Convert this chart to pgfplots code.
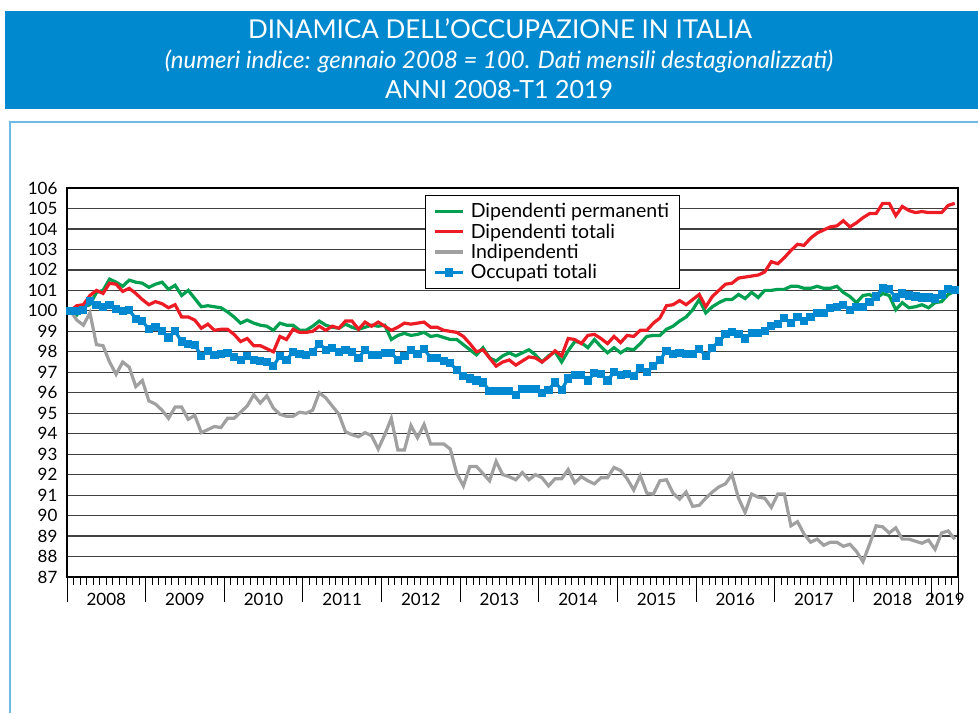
\documentclass[border=0pt]{standalone}
\usepackage{fontspec}
\setmainfont{Lato}
\usepackage{pgfplots}
\usepackage{pgfplotstable}
\pgfplotsset{compat=1.18}
\definecolor{titlebg}{RGB}{0,137,207}
\definecolor{framecol}{RGB}{110,185,230}
\definecolor{cgreen}{RGB}{0,160,80}
\definecolor{cred}{RGB}{237,28,36}
\definecolor{cgray}{RGB}{160,160,160}
\definecolor{cblue}{RGB}{0,136,209}

\pgfplotstableread{
i perm tot ind occ
0 100.0 100.0 100.0 100.0
1 99.8 100.25 99.55 100.0
2 100.2 100.3 99.3 100.05
3 100.3 100.75 99.9 100.5
4 100.9 101.0 98.35 100.3
5 101.0 100.85 98.3 100.2
6 101.55 101.35 97.5 100.3
7 101.4 101.3 96.9 100.1
8 101.2 100.95 97.5 100.0
9 101.5 101.1 97.25 100.05
10 101.4 100.85 96.3 99.6
11 101.35 100.55 96.6 99.5
12 101.15 100.3 95.6 99.1
13 101.3 100.45 95.45 99.2
14 101.4 100.35 95.15 99.0
15 101.05 100.15 94.75 98.7
16 101.25 100.3 95.3 99.0
17 100.75 99.7 95.3 98.5
18 101.0 99.7 94.7 98.4
19 100.6 99.55 94.9 98.35
20 100.2 99.15 94.05 97.8
21 100.25 99.35 94.2 98.05
22 100.2 99.05 94.35 97.85
23 100.15 99.1 94.3 97.9
24 99.95 99.1 94.75 97.95
25 99.7 98.85 94.75 97.75
26 99.4 98.5 95.05 97.6
27 99.55 98.65 95.35 97.8
28 99.4 98.3 95.9 97.6
29 99.3 98.3 95.5 97.55
30 99.25 98.15 95.85 97.5
31 99.05 98.0 95.25 97.3
32 99.4 98.75 94.95 97.8
33 99.3 98.6 94.85 97.6
34 99.3 99.1 94.85 98.0
35 99.05 98.95 95.05 97.9
36 99.05 98.95 95.0 97.85
37 99.25 99.0 95.15 98.0
38 99.5 99.25 96.0 98.4
39 99.3 99.05 95.75 98.1
40 99.2 99.25 95.35 98.2
41 99.15 99.15 94.95 98.0
42 99.35 99.5 94.1 98.1
43 99.2 99.5 93.95 98.0
44 99.1 99.1 93.85 97.7
45 99.2 99.45 94.05 98.1
46 99.3 99.25 93.9 97.85
47 99.25 99.45 93.25 97.85
48 99.3 99.25 93.95 97.95
49 98.6 99.05 94.75 97.95
50 98.8 99.2 93.2 97.6
51 98.9 99.4 93.2 97.8
52 98.8 99.35 94.4 98.1
53 98.85 99.4 93.8 97.9
54 98.95 99.45 94.45 98.15
55 98.75 99.2 93.5 97.7
56 98.8 99.2 93.5 97.7
57 98.7 99.05 93.5 97.55
58 98.6 99.0 93.25 97.45
59 98.6 98.95 92.05 97.1
60 98.35 98.75 91.45 96.8
61 98.1 98.4 92.4 96.7
62 97.85 98.0 92.4 96.6
63 98.2 98.1 92.05 96.5
64 97.7 97.7 91.7 96.1
65 97.55 97.3 92.65 96.1
66 97.8 97.5 92.0 96.1
67 97.95 97.6 91.9 96.1
68 97.8 97.35 91.75 95.9
69 97.95 97.55 92.1 96.2
70 98.1 97.75 91.75 96.2
71 97.85 97.7 92.0 96.2
72 97.5 97.5 91.85 96.0
73 97.8 97.75 91.45 96.15
74 98.0 98.05 91.8 96.5
75 97.5 97.8 91.8 96.15
76 98.05 98.65 92.25 96.7
77 98.5 98.6 91.6 96.85
78 98.45 98.4 91.9 96.85
79 98.2 98.8 91.7 96.6
80 98.6 98.85 91.55 96.95
81 98.25 98.65 91.85 96.9
82 97.95 98.4 91.85 96.6
83 98.2 98.75 92.35 97.0
84 97.95 98.45 92.2 96.85
85 98.15 98.8 91.8 96.9
86 98.1 98.75 91.25 96.8
87 98.4 99.05 91.95 97.2
88 98.75 99.05 91.1 97.0
89 98.8 99.4 91.05 97.3
90 98.8 99.65 91.7 97.6
91 99.1 100.25 91.75 98.05
92 99.25 100.3 91.1 97.9
93 99.5 100.5 90.8 97.95
94 99.7 100.3 91.15 97.9
95 100.05 100.55 90.45 97.9
96 100.55 100.8 90.5 98.15
97 99.9 100.2 90.85 97.8
98 100.2 100.7 91.15 98.2
99 100.4 101.0 91.4 98.5
100 100.55 101.3 91.55 98.85
101 100.55 101.35 92.0 98.95
102 100.8 101.6 90.85 98.85
103 100.6 101.65 90.15 98.65
104 100.9 101.7 91.05 98.9
105 100.65 101.75 90.9 98.9
106 101.0 101.9 90.85 99.0
107 101.0 102.4 90.4 99.25
108 101.05 102.3 91.05 99.35
109 101.05 102.6 91.05 99.65
110 101.2 102.95 89.5 99.4
111 101.2 103.25 89.7 99.7
112 101.1 103.2 89.1 99.5
113 101.1 103.55 88.7 99.7
114 101.2 103.8 88.85 99.9
115 101.1 103.95 88.55 99.9
116 101.1 104.1 88.7 100.15
117 101.2 104.15 88.7 100.2
118 100.9 104.4 88.5 100.3
119 100.7 104.1 88.6 100.05
120 100.4 104.3 88.25 100.2
121 100.75 104.55 87.75 100.2
122 100.8 104.75 88.6 100.45
123 100.6 104.75 89.5 100.7
124 100.85 105.25 89.45 101.1
125 100.75 105.25 89.15 101.05
126 100.05 104.65 89.4 100.65
127 100.4 105.1 88.85 100.85
128 100.15 104.9 88.85 100.75
129 100.2 104.8 88.75 100.7
130 100.3 104.85 88.65 100.65
131 100.15 104.8 88.8 100.65
132 100.4 104.8 88.35 100.6
133 100.45 104.8 89.15 100.8
134 100.8 105.15 89.25 101.05
135 100.95 105.25 88.85 101.0
}\datatable

\begin{document}
\begin{tikzpicture}[x=1pt,y=1pt]
\path[use as bounding box] (0,0) rectangle (978,-713);
\fill[titlebg] (5,-11) rectangle (978,-109);
\node[white, font=\fontsize{26}{28}\selectfont, anchor=base, inner sep=0pt] at (500,-38) {DINAMICA DELL’OCCUPAZIONE IN ITALIA};
\node[white, font=\fontsize{24}{26}\selectfont\itshape, anchor=base, inner sep=0pt] at (499,-68) {(numeri indice: gennaio 2008 = 100. Dati mensili destagionalizzati)};
\node[white, font=\fontsize{25}{27}\selectfont, anchor=base, inner sep=0pt] at (499,-98) {ANNI 2008-T1 2019};
\draw[framecol, line width=1.5pt] (10,-713) -- (10,-122) -- (978,-122);
\begin{axis}[
  at={(67pt,-577pt)}, anchor=south west,
  scale only axis, width=891pt, height=389pt,
  xmin=-0.5, xmax=135.5, ymin=87, ymax=106,
  ytick={87,88,...,106},
  xtick={-0.5,11.5,23.5,35.5,47.5,59.5,71.5,83.5,95.5,107.5,119.5,131.5,135.5},
  xticklabels={},
  minor xtick={0.5,1.5,...,134.5},
  extra x ticks={5.5,17.5,29.5,41.5,53.5,65.5,77.5,89.5,101.5,113.5,125.5,133.5},
  extra x tick labels={2008,2009,2010,2011,2012,2013,2014,2015,2016,2017,2018,2019},
  extra x tick style={major tick length=0pt, xticklabel style={yshift=-13pt}},
  xtick pos=bottom,
  ytick pos=left,
  tick align=outside,
  major tick length=25pt,
  minor tick length=8pt,
  ymajorgrids,
  ytick style={draw=none},
  xtick style={black, line width=0.8pt},
  grid style={black!75, line width=1.2pt},
  axis line style={black, line width=1.2pt},
  ticklabel style={font=\fontsize{17}{17}\selectfont},
  yticklabel style={xshift=19pt},
  /pgf/number format/assume math mode=true,
  legend style={at={(0.402,0.982)}, anchor=north west, draw=black, line width=0.8pt,
    font=\fontsize{19.5}{22}\selectfont, row sep=0.5pt, inner xsep=8pt, inner ysep=6pt},
  legend cell align=left,
  legend image code/.code={\draw[mark repeat=2,mark phase=2,#1] plot coordinates {(0pt,0pt) (14pt,0pt) (28pt,0pt)};\path (32pt,0pt);},
]
\addplot[cgreen, line width=3.2pt, mark=none] table[x=i,y=perm] {\datatable};
\addlegendentry{Dipendenti permanenti}
\addplot[cred, line width=3.2pt, mark=none] table[x=i,y=tot] {\datatable};
\addlegendentry{Dipendenti totali}
\addplot[cgray, line width=3.2pt, mark=none] table[x=i,y=ind] {\datatable};
\addlegendentry{Indipendenti}
\addplot[cblue, line width=3.2pt, mark=square*, mark size=3.6pt, mark options={line width=0pt}] table[x=i,y=occ] {\datatable};
\addlegendentry{Occupati totali}
\end{axis}
\end{tikzpicture}
\end{document}
